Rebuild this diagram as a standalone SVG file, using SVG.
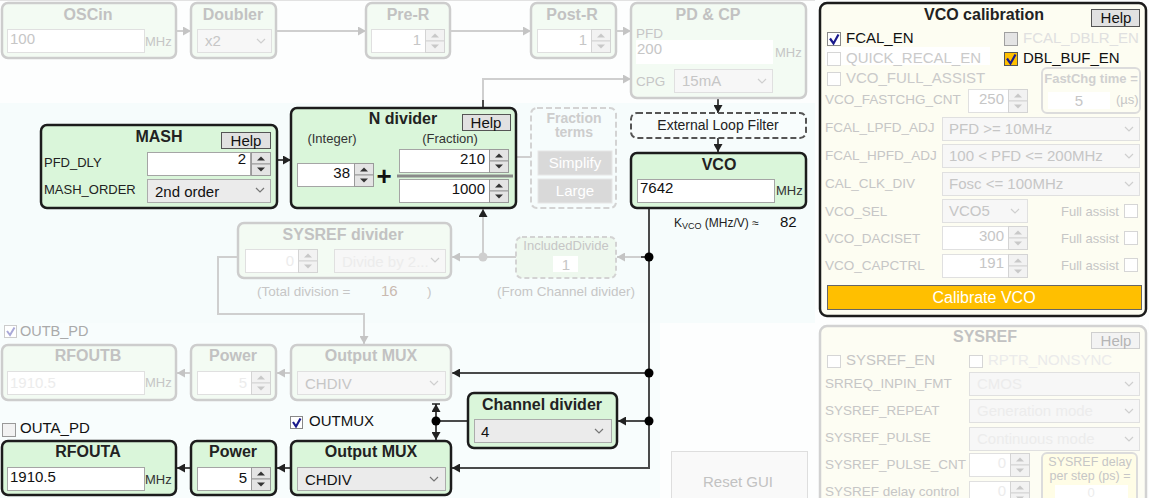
<svg xmlns="http://www.w3.org/2000/svg" width="1149" height="498" viewBox="0 0 1149 498">
<defs>
<style>
text{font-family:"Liberation Sans",Arial,sans-serif}
.ba{fill:#daf6da;stroke:#1c1c1c;stroke-width:2.5}
.bf{fill:#f3fbf3;stroke:#cdcdcd;stroke-width:2.5}
.ta{font-size:16px;font-weight:bold;fill:#222;text-anchor:middle}
.tf{font-size:16px;font-weight:bold;fill:#c2c2c2;text-anchor:middle}
.in{fill:#fff;stroke:#a5a5a5}
.inf{fill:#fff;stroke:#e0e0e0}
.v{font-size:15px;fill:#111}
.vf{font-size:15px;fill:#c6c6c6}
.vff{font-size:15px;fill:#ececec}
.sel{fill:#ebebeb;stroke:#acacac}
.self{fill:#f7f7f7;stroke:#e0e0e0}
.lbl{font-size:13px;fill:#222}
.lf{font-size:13.5px;fill:#c6c6c6}
.mhz{font-size:13px;fill:#333}
.mhzf{font-size:13px;fill:#c6c6c6}
.ca{fill:none;stroke:#4a4a4a;stroke-width:2}
.cf{fill:none;stroke:#cfcfcf;stroke-width:2}
.btn{fill:#e1e1e1;stroke:#555}
.btnf{fill:#f3f3f3;stroke:#cfcfcf}
.cb{fill:#fff;stroke:#888}
.cbf{fill:#fff;stroke:#d6d6d6}
.chk{fill:none;stroke:#1a1a8c;stroke-width:2.2}
.chkf{fill:none;stroke:#a9a9d8;stroke-width:2}
.r{text-anchor:end}
.m{text-anchor:middle}
</style>
<marker id="a" markerUnits="userSpaceOnUse" markerWidth="9" markerHeight="9" refX="8" refY="4.5" orient="auto"><path d="M0,0 L8,4.5 L0,9 Z" fill="#222"/></marker>
<marker id="ag" markerUnits="userSpaceOnUse" markerWidth="9" markerHeight="9" refX="8" refY="4.5" orient="auto"><path d="M0,0 L8,4.5 L0,9 Z" fill="#c4c4c4"/></marker>
<symbol id="sp" viewBox="0 0 20 24" width="20" height="24"><rect x="0.5" y="0.5" width="19" height="11.5" fill="#e4e4e4" stroke="#9a9a9a"/><rect x="0.5" y="12" width="19" height="11.5" fill="#e4e4e4" stroke="#9a9a9a"/><path d="M6,8.5 L10,4.5 L14,8.5 Z" fill="#333"/><path d="M6,15.5 L14,15.5 L10,19.5 Z" fill="#333"/></symbol>
<symbol id="spf" viewBox="0 0 20 24" width="20" height="24"><rect x="0.5" y="0.5" width="19" height="11.5" fill="#f2f2f2" stroke="#d4d4d4"/><rect x="0.5" y="12" width="19" height="11.5" fill="#f2f2f2" stroke="#d4d4d4"/><path d="M6,8.5 L10,4.5 L14,8.5 Z" fill="#c8c8c8"/><path d="M6,15.5 L14,15.5 L10,19.5 Z" fill="#c8c8c8"/></symbol>
<symbol id="cv" viewBox="0 0 10 6" width="10" height="6"><path d="M1,1 L5,5 L9,1" fill="none" stroke="#777" stroke-width="1.2"/></symbol>
<symbol id="cvf" viewBox="0 0 10 6" width="10" height="6"><path d="M1,1 L5,5 L9,1" fill="none" stroke="#cfcfcf" stroke-width="1.2"/></symbol>
</defs>

<rect x="0" y="0" width="1149" height="498" fill="#fdfefe"/>
<rect x="0" y="0" width="815" height="1" fill="#e2e2e2"/>
<rect x="0" y="103" width="815" height="220" fill="#f6fcfc"/>
<rect x="0" y="323" width="660" height="175" fill="#f8fdfd"/>

<g id="connectors">
<path class="cf" d="M176,31 H191" marker-end="url(#ag)"/>
<path class="cf" d="M276,31 H366" marker-end="url(#ag)"/>
<path class="cf" d="M450,31 H531" marker-end="url(#ag)"/>
<path class="cf" d="M616,31 H631" marker-end="url(#ag)"/>
<path class="cf" d="M483,100 V79 H631" marker-end="url(#ag)"/>
<path class="ca" d="M483,108 V100"/>
<path class="ca" d="M718,98 V113" marker-end="url(#a)"/>
<path class="ca" d="M718,138 V152" marker-end="url(#a)"/>
<path class="ca" d="M277,160 H291" marker-end="url(#a)"/>
<path class="cf" d="M516,157 H531"/>
<path class="ca" d="M649,208 V468 H452" marker-end="url(#a)"/>
<path class="cf" d="M641,257 H617" marker-end="url(#ag)"/>
<path class="ca" d="M649,257 H641"/>
<path class="cf" d="M516,257 H452" marker-end="url(#ag)"/>
<path class="cf" d="M483,257 V209" marker-end="url(#a)"/>
<path class="cf" d="M238,257 H218 V314 H364 V344" marker-end="url(#ag)"/>
<path class="ca" d="M649,373 H452" marker-end="url(#a)"/>
<path class="cf" d="M291,373 H277" marker-end="url(#ag)"/>
<path class="cf" d="M191,373 H177" marker-end="url(#ag)"/>
<path class="ca" d="M649,421 H618" marker-end="url(#a)"/>
<path class="ca" d="M468,421 H436"/>
<path class="ca" d="M436,421 V404" marker-end="url(#a)"/>
<path d="M432,404 H440" stroke="#222" stroke-width="1.5"/>
<path class="ca" d="M436,421 V440" marker-end="url(#a)"/>
<path class="ca" d="M291,468 H277" marker-end="url(#a)"/>
<path class="ca" d="M191,468 H177" marker-end="url(#a)"/>
<path class="cf" d="M1028,99 H1042"/>
<path class="cf" d="M335,261 H319" marker-end="url(#ag)"/>
<path class="cf" d="M1030,493 H1042"/>
<circle cx="649" cy="257" r="4.5" fill="#000"/>
<circle cx="649" cy="373" r="4.5" fill="#000"/>
<circle cx="649" cy="421" r="4.5" fill="#000"/>
<circle cx="436" cy="421" r="4.5" fill="#000"/>
<circle cx="483" cy="257" r="4.5" fill="#cfcfcf"/>
</g>

<g id="oscin">
<rect class="bf" x="2" y="3" width="174" height="55" rx="6"/>
<text class="tf" x="88" y="20">OSCin</text>
<rect class="inf" x="7.5" y="29.5" width="137" height="23"/>
<text class="vf" x="10" y="44">100</text>
<text class="mhzf" x="145" y="46">MHz</text>
</g>

<g id="doubler">
<rect class="bf" x="191" y="3" width="85" height="55" rx="6"/>
<text class="tf" x="233" y="20">Doubler</text>
<rect class="self" x="197.5" y="29.5" width="74" height="23"/>
<text class="vf" x="205" y="46">x2</text>
<use href="#cvf" x="256" y="38"/>
</g>

<g id="pre-r">
<rect class="bf" x="366" y="3" width="84" height="55" rx="6"/>
<text class="tf" x="408" y="20">Pre-R</text>
<rect class="inf" x="371.5" y="29.5" width="54" height="23"/>
<text class="vf r" x="421" y="45">1</text>
<use href="#spf" x="425" y="29"/>
</g>

<g id="post-r">
<rect class="bf" x="531" y="3" width="85" height="55" rx="6"/>
<text class="tf" x="572" y="20">Post-R</text>
<rect class="inf" x="537.5" y="29.5" width="54" height="23"/>
<text class="vf r" x="587" y="45">1</text>
<use href="#spf" x="591" y="29"/>
</g>

<g id="pd-cp">
<rect class="bf" x="631" y="3" width="175" height="95" rx="6"/>
<text class="tf" x="708" y="20">PD &amp; CP</text>
<text class="lf" x="636" y="38">PFD</text>
<rect x="636" y="40" width="137" height="24" fill="#fff"/>
<text class="vf" x="637" y="54">200</text>
<text class="mhzf" x="775" y="57">MHz</text>
<text class="lf" x="636" y="86">CPG</text>
<rect class="self" x="674.5" y="69.5" width="98" height="23"/>
<text class="vf" x="682" y="86">15mA</text>
<use href="#cvf" x="757" y="78"/>
</g>

<g id="mash">
<rect class="ba" x="41" y="125" width="236" height="83" rx="6"/>
<text class="ta" x="159" y="142">MASH</text>
<rect class="btn" x="221.5" y="132.5" width="49" height="16"/>
<text class="m" x="246" y="146" font-size="15" fill="#111">Help</text>
<text class="lbl" x="44" y="167">PFD_DLY</text>
<rect class="in" x="147.5" y="152.5" width="103" height="23"/>
<text class="v r" x="246" y="164">2</text>
<use href="#sp" x="251" y="152"/>
<text class="lbl" x="44" y="194">MASH_ORDER</text>
<rect class="sel" x="147.5" y="179.5" width="123" height="23"/>
<text class="v" x="155" y="197">2nd order</text>
<use href="#cv" x="255" y="187"/>
</g>

<g id="n-divider">
<rect class="ba" x="291" y="108" width="225" height="100" rx="6"/>
<text class="ta" x="403" y="124">N divider</text>
<rect class="btn" x="462.5" y="114.5" width="48" height="16"/>
<text class="m" x="486" y="128" font-size="15" fill="#111">Help</text>
<text class="m" x="332" y="143" font-size="13" fill="#333">(Integer)</text>
<text class="m" x="450" y="143" font-size="13" fill="#333">(Fraction)</text>
<rect class="in" x="297.5" y="163.5" width="57" height="23"/>
<text class="v r" x="350" y="178">38</text>
<use href="#sp" x="354" y="163"/>
<text class="m" x="384" y="185" font-size="26" font-weight="bold" fill="#111">+</text>
<rect x="397" y="174.5" width="116" height="3" fill="#8a8a8a"/>
<rect class="in" x="399.5" y="149.5" width="90" height="23"/>
<text class="v r" x="485" y="164">210</text>
<use href="#sp" x="489" y="149"/>
<rect class="in" x="399.5" y="179.5" width="90" height="23"/>
<text class="v r" x="485" y="194">1000</text>
<use href="#sp" x="489" y="179"/>
</g>

<g id="fraction-terms">
<rect x="531" y="108" width="85" height="100" rx="6" fill="none" stroke="#d3d3d3" stroke-width="2" stroke-dasharray="6,3"/>
<text class="m" x="574" y="123" font-size="14" font-weight="bold" fill="#cdcdcd">Fraction</text>
<text class="m" x="574" y="137" font-size="14" font-weight="bold" fill="#cdcdcd">terms</text>
<rect x="538" y="151" width="74" height="24" fill="#d9d9d9" stroke="#e6e6e6"/>
<text class="m" x="575" y="168" font-size="15" fill="#fff">Simplify</text>
<rect x="538" y="179" width="74" height="24" fill="#d9d9d9" stroke="#e6e6e6"/>
<text class="m" x="575" y="196" font-size="15" fill="#fff">Large</text>
</g>

<g id="external-loop-filter">
<rect x="631" y="113" width="175" height="25" rx="6" fill="#f8fdfd" stroke="#555" stroke-width="2" stroke-dasharray="6,3"/>
<text class="m" x="718" y="130" font-size="14" fill="#222">External Loop Filter</text>
</g>

<g id="vco">
<rect class="ba" x="631" y="153" width="175" height="55" rx="6"/>
<text class="ta" x="719" y="170" font-size="17">VCO</text>
<rect class="in" x="637.5" y="179.5" width="137" height="23"/>
<text class="v" x="640" y="193">7642</text>
<text class="mhz" x="776" y="195">MHz</text>
<text x="674" y="227" font-size="12" fill="#222">K<tspan font-size="9" dy="2">VCO</tspan><tspan dy="-2"> (MHz/V) ≈</tspan></text>
<text x="780" y="227" font-size="15" fill="#111">82</text>
</g>

<g id="sysref-divider">
<rect class="bf" x="238" y="223" width="213" height="55" rx="6"/>
<text class="tf" x="343" y="240">SYSREF divider</text>
<rect class="inf" x="245.5" y="249.5" width="53" height="23"/>
<text class="vff r" x="294" y="266">0</text>
<use href="#spf" x="298" y="249"/>
<rect class="self" x="334.5" y="249.5" width="111" height="23"/>
<text class="vff" x="342" y="267">Divide by 2...</text>
<use href="#cvf" x="430" y="257"/>
<text x="257" y="296" font-size="13.5" fill="#c6c6c6">(Total division =</text>
<text x="381" y="296" font-size="15" fill="#c9b9b0">16</text>
<text x="427" y="296" font-size="13.5" fill="#c6c6c6">)</text>
</g>

<g id="included-divide">
<rect x="516" y="237" width="100" height="41" rx="6" fill="#eef8ee" stroke="#d3d3d3" stroke-width="2" stroke-dasharray="5,3"/>
<text class="m" x="566" y="250" font-size="13" fill="#c6c6c6">IncludedDivide</text>
<rect x="553" y="256" width="25" height="16" fill="#fff"/>
<text class="m" x="566" y="270" font-size="15" fill="#c6c6c6">1</text>
<text class="m" x="566" y="296" font-size="13.5" fill="#c6c6c6">(From Channel divider)</text>
</g>

<g id="outb-pd">
<rect x="4.5" y="325.5" width="12" height="12" fill="#fff" stroke="#ccc"/>
<path class="chkf" d="M7,331 L10,335 L14.5,327.5"/>
<text x="20" y="336" font-size="14.5" fill="#aaa">OUTB_PD</text>
</g>

<g id="rfoutb">
<rect class="bf" x="2" y="345" width="174" height="55" rx="6"/>
<text class="tf" x="88" y="361">RFOUTB</text>
<rect class="inf" x="7.5" y="371.5" width="137" height="23"/>
<text class="vff" x="10" y="388">1910.5</text>
<text class="mhzf" x="145" y="387">MHz</text>
</g>

<g id="power-b">
<rect class="bf" x="191" y="345" width="85" height="55" rx="6"/>
<text class="tf" x="233" y="361">Power</text>
<rect class="inf" x="197.5" y="371.5" width="54" height="23"/>
<text class="vff r" x="247" y="388">5</text>
<use href="#spf" x="251" y="371"/>
</g>

<g id="output-mux-b">
<rect class="bf" x="291" y="345" width="160" height="55" rx="6"/>
<text class="tf" x="371" y="361">Output MUX</text>
<rect class="self" x="297.5" y="371.5" width="148" height="23"/>
<text class="vf" x="305" y="389">CHDIV</text>
<use href="#cvf" x="429" y="380"/>
</g>

<g id="outa-pd">
<rect x="2.5" y="423.5" width="13" height="13" fill="#f2f2f2" stroke="#999"/>
<text x="20" y="433" font-size="15" fill="#111">OUTA_PD</text>
</g>

<g id="outmux">
<rect class="cb" x="290.5" y="416.5" width="12" height="12"/>
<path class="chk" d="M293,422 L296,426.5 L300.5,418.5"/>
<text x="309" y="426" font-size="15" fill="#111">OUTMUX</text>
</g>

<g id="rfouta">
<rect class="ba" x="2" y="441" width="174" height="54" rx="6"/>
<text class="ta" x="88" y="457">RFOUTA</text>
<rect class="in" x="7.5" y="467.5" width="137" height="23"/>
<text class="v" x="10" y="482">1910.5</text>
<text class="mhz" x="145" y="484">MHz</text>
</g>

<g id="power-a">
<rect class="ba" x="191" y="441" width="85" height="54" rx="6"/>
<text class="ta" x="233" y="457">Power</text>
<rect class="in" x="197.5" y="467.5" width="54" height="23"/>
<text class="v r" x="247" y="483">5</text>
<use href="#sp" x="251" y="467"/>
</g>

<g id="output-mux-a">
<rect class="ba" x="291" y="441" width="160" height="54" rx="6"/>
<text class="ta" x="371" y="457">Output MUX</text>
<rect class="sel" x="297.5" y="467.5" width="148" height="23"/>
<text class="v" x="305" y="485">CHDIV</text>
<use href="#cv" x="429" y="476"/>
</g>

<g id="channel-divider">
<rect class="ba" x="468" y="393" width="149" height="55" rx="6"/>
<text class="ta" x="542" y="410">Channel divider</text>
<rect class="sel" x="474.5" y="419.5" width="137" height="23"/>
<text class="v" x="481" y="437">4</text>
<use href="#cv" x="594" y="428"/>
</g>

<g id="reset-gui">
<rect x="671.5" y="451.5" width="136" height="50" fill="#f9f9f9" stroke="#dedede"/>
<text class="m" x="738" y="487" font-size="15" fill="#c2c2c2">Reset GUI</text>
</g>

<g id="vco-calibration">
<rect x="820" y="3" width="326" height="313" rx="7" fill="#fdfdf2" stroke="#1c1c1c" stroke-width="2.5"/>
<text class="ta" x="984" y="20">VCO calibration</text>
<rect class="btn" x="1091.5" y="9.5" width="48" height="17"/>
<text class="m" x="1116" y="23" font-size="15" fill="#111">Help</text>
<rect class="cb" x="827.5" y="32.5" width="13" height="13"/>
<path class="chk" d="M830,38.5 L833.5,43.5 L838.5,34.5"/>
<text x="846" y="43" font-size="15" fill="#111">FCAL_EN</text>
<rect x="1004.5" y="32.5" width="13" height="13" fill="#e4e4e4" stroke="#a0a0a0"/>
<text x="1023" y="43" font-size="15" fill="#e0e0e0">FCAL_DBLR_EN</text>
<rect x="825" y="47" width="165" height="18" fill="#fff"/>
<rect class="cbf" x="827.5" y="52.5" width="13" height="13"/>
<text x="846" y="63" font-size="15" fill="#cacaca">QUICK_RECAL_EN</text>
<rect x="1004.5" y="52.5" width="13" height="13" fill="#ffc000" stroke="#555"/>
<path class="chk" d="M1007,58.5 L1010.5,63.5 L1015.5,54.5"/>
<text x="1023" y="63" font-size="15" fill="#111">DBL_BUF_EN</text>
<rect class="cbf" x="827.5" y="72.5" width="13" height="13"/>
<text x="846" y="83" font-size="15" fill="#cacaca">VCO_FULL_ASSIST</text>
<rect x="1042" y="68" width="98" height="45" rx="5" fill="#fdfdf2" stroke="#dcdcdc" stroke-width="2"/>
<text class="m" x="1091" y="83" font-size="13" font-weight="bold" fill="#d0d0d0">FastChg time =</text>
<rect x="1048" y="92" width="62" height="17" fill="#fff"/>
<text class="m" x="1079" y="106" font-size="15" fill="#c6c6c6">5</text>
<text x="1116" y="104" font-size="13" fill="#c6c6c6">(µs)</text>
<text class="lf" x="825" y="104">VCO_FASTCHG_CNT</text>
<rect class="inf" x="968.5" y="89.5" width="40" height="23"/>
<text class="vf r" x="1004" y="104">250</text>
<use href="#spf" x="1008" y="89"/>
<text class="lf" x="825" y="132">FCAL_LPFD_ADJ</text>
<rect class="self" x="942.5" y="117.5" width="197" height="23"/>
<text class="vf" x="949" y="134">PFD &gt;= 10MHz</text>
<use href="#cvf" x="1124" y="126"/>
<text class="lf" x="825" y="160">FCAL_HPFD_ADJ</text>
<rect class="self" x="942.5" y="144.5" width="197" height="23"/>
<text class="vf" x="949" y="161">100 &lt; PFD &lt;= 200MHz</text>
<use href="#cvf" x="1124" y="153"/>
<text class="lf" x="825" y="188">CAL_CLK_DIV</text>
<rect class="self" x="942.5" y="172.5" width="197" height="23"/>
<text class="vf" x="949" y="189">Fosc &lt;= 100MHz</text>
<use href="#cvf" x="1124" y="181"/>
<text class="lf" x="825" y="216">VCO_SEL</text>
<rect class="self" x="942.5" y="199.5" width="85" height="23"/>
<text class="vf" x="949" y="216">VCO5</text>
<use href="#cvf" x="1010" y="208"/>
<text x="1061" y="216" font-size="13" fill="#c6c6c6">Full assist</text>
<rect class="cbf" x="1124.5" y="204.5" width="13" height="13"/>
<text class="lf" x="825" y="243">VCO_DACISET</text>
<rect class="inf" x="942.5" y="226.5" width="66" height="23"/>
<text class="vf r" x="1004" y="241">300</text>
<use href="#spf" x="1008" y="226"/>
<text x="1061" y="243" font-size="13" fill="#c6c6c6">Full assist</text>
<rect class="cbf" x="1124.5" y="231.5" width="13" height="13"/>
<text class="lf" x="825" y="270">VCO_CAPCTRL</text>
<rect class="inf" x="942.5" y="254.5" width="66" height="23"/>
<text class="vf r" x="1004" y="268">191</text>
<use href="#spf" x="1008" y="254"/>
<text x="1061" y="270" font-size="13" fill="#c6c6c6">Full assist</text>
<rect class="cbf" x="1124.5" y="258.5" width="13" height="13"/>
<rect x="827.5" y="285.5" width="314" height="24" fill="#ffbf00" stroke="#666"/>
<text class="m" x="984" y="303" font-size="16" fill="#fff">Calibrate VCO</text>
</g>

<g id="sysref">
<rect x="820" y="326" width="326" height="180" rx="7" fill="#fdfdf3" stroke="#d2d2d2" stroke-width="2.5"/>
<text class="tf" x="985" y="342">SYSREF</text>
<rect class="btnf" x="1091.5" y="332.5" width="48" height="16"/>
<text class="m" x="1116" y="346" font-size="15" fill="#b5b5b5">Help</text>
<rect class="cbf" x="827.5" y="355.5" width="13" height="12"/>
<text x="846" y="365" font-size="15" fill="#c6c6c6">SYSREF_EN</text>
<rect class="cbf" x="969.5" y="355.5" width="13" height="12"/>
<text x="988" y="365" font-size="15" fill="#ebebeb">RPTR_NONSYNC</text>
<text class="lf" x="825" y="388">SRREQ_INPIN_FMT</text>
<rect class="self" x="969.5" y="372.5" width="170" height="23"/>
<text class="vff" x="977" y="389">CMOS</text>
<use href="#cvf" x="1124" y="381"/>
<text class="lf" x="825" y="415">SYSREF_REPEAT</text>
<rect class="self" x="969.5" y="399.5" width="170" height="23"/>
<text class="vff" x="977" y="416">Generation mode</text>
<use href="#cvf" x="1124" y="408"/>
<text class="lf" x="825" y="442">SYSREF_PULSE</text>
<rect class="self" x="969.5" y="427.5" width="170" height="23"/>
<text class="vff" x="977" y="444">Continuous mode</text>
<use href="#cvf" x="1124" y="436"/>
<text class="lf" x="825" y="469">SYSREF_PULSE_CNT</text>
<rect class="inf" x="969.5" y="453.5" width="41" height="23"/>
<text class="vff r" x="1006" y="468">0</text>
<use href="#spf" x="1010" y="453"/>
<rect x="1042" y="453" width="95" height="55" rx="5" fill="#fffde6" stroke="#dcdcdc" stroke-width="2"/>
<text class="m" x="1090" y="466" font-size="12.5" fill="#c6c6c6">SYSREF delay</text>
<text class="m" x="1090" y="480" font-size="12.5" fill="#c6c6c6">per step (ps) =</text>
<rect x="1055" y="485" width="73" height="13" fill="#fff"/>
<text class="m" x="1091" y="497" font-size="13" fill="#ececec">0</text>
<text class="lf" x="825" y="496">SYSREF delay control</text>
<rect class="inf" x="969.5" y="481.5" width="41" height="23"/>
<text class="vff r" x="1006" y="496">0</text>
<use href="#spf" x="1010" y="481"/>
</g>
</svg>
